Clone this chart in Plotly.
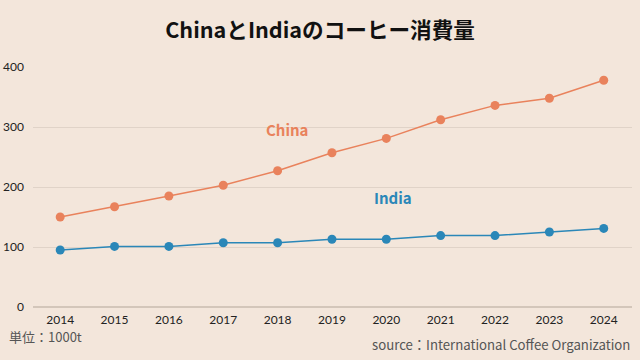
import plotly.graph_objects as go

years = [2014, 2015, 2016, 2017, 2018, 2019, 2020, 2021, 2022, 2023, 2024]
china = [150, 167, 185, 203, 227, 257, 281, 312, 336, 348, 378]
india = [95, 101, 101, 107, 107, 113, 113, 119, 119, 125, 131]
y_ticks = [0, 100, 200, 300, 400]

FONT = "Noto Sans CJK JP"
TICKFONT = "Lato"
BG = "#F3E6DB"
C_CHINA = "#E9825C"
C_INDIA = "#2A87B8"

fig = go.Figure()
fig.add_trace(go.Scatter(x=years, y=china, mode="lines+markers", name="China",
                         line=dict(color=C_CHINA, width=1.5),
                         marker=dict(color=C_CHINA, size=9)))
fig.add_trace(go.Scatter(x=years, y=india, mode="lines+markers", name="India",
                         line=dict(color=C_INDIA, width=1.5),
                         marker=dict(color=C_INDIA, size=9)))

fig.add_annotation(x=2018.17, y=296, text="<b>China</b>", showarrow=False,
                   font=dict(family=FONT, size=15, color=C_CHINA))
fig.add_annotation(x=2020.12, y=182, text="<b>India</b>", showarrow=False,
                   font=dict(family=FONT, size=15, color=C_INDIA))
fig.add_annotation(xref="paper", yref="paper", x=-0.043, y=-0.121, xanchor="left", yanchor="middle",
                   text="単位：1000t", showarrow=False,
                   font=dict(family=FONT, size=13, color="#555555"))
fig.add_annotation(xref="paper", yref="paper", x=1.0, y=-0.158, xanchor="right", yanchor="middle",
                   text="source：International Coffee Organization", showarrow=False,
                   font=dict(family=FONT, size=13.2, color="#555555"))

fig.update_layout(
    width=640, height=360,
    paper_bgcolor=BG, plot_bgcolor=BG,
    margin=dict(l=33, r=8, t=67, b=53),
    showlegend=False,
    title=dict(text="<b>ChinaとIndiaのコーヒー消費量</b>", x=0.5, xanchor="center",
               y=0.915, yanchor="middle",
               font=dict(family=FONT, size=21.6, color="#111111")),
    font=dict(family=FONT, color="#222222"),
)
fig.update_xaxes(range=[2013.5, 2024.52], tickvals=years, ticktext=[str(y) for y in years],
                 showgrid=False, showline=False, zeroline=False, automargin=False,
                 tickfont=dict(family=TICKFONT, size=12, color="#222222"), ticks="", ticklabelstandoff=4)
fig.update_yaxes(range=[0, 400], tickvals=y_ticks, showgrid=True, gridcolor="#E0D3C8",
                 gridwidth=1, zeroline=True, zerolinecolor="#D3C6BA", zerolinewidth=2, automargin=False,
                 tickfont=dict(family=TICKFONT, size=12, color="#222222"), ticks="", ticklabelstandoff=8)

fig.write_html("out.html", config={"displayModeBar": False},
               post_script="document.body.style.margin='0';document.body.style.overflow='hidden';document.body.style.background='%s';" % BG)
